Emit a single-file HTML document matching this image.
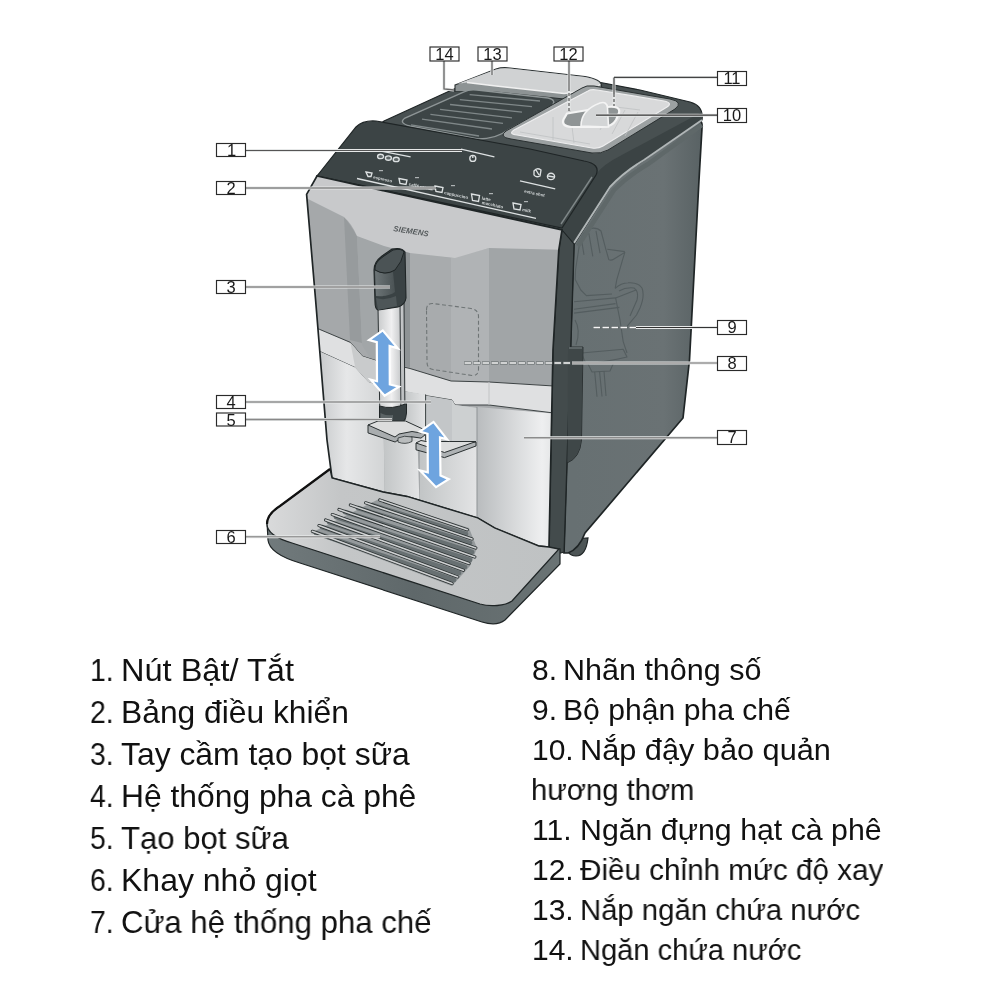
<!DOCTYPE html>
<html><head><meta charset="utf-8">
<style>
html,body{margin:0;padding:0;background:#fff;}
body{width:1000px;height:1000px;position:relative;overflow:hidden;}
svg{position:absolute;left:0;top:0;will-change:transform;}
.t{position:absolute;will-change:transform;font-family:"Liberation Sans",sans-serif;font-size:30px;color:#111;white-space:nowrap;line-height:1;transform-origin:0 0;}
</style></head><body>
<svg width="1000" height="1000" viewBox="0 0 1000 1000">
<defs>
<linearGradient id="sideG" x1="574" x2="702" y1="0" y2="0" gradientUnits="userSpaceOnUse">
<stop offset="0" stop-color="#677072"/><stop offset="0.7" stop-color="#6a7274"/><stop offset="1" stop-color="#596264"/>
</linearGradient>
<linearGradient id="stL" x1="0" x2="1" y1="0" y2="0">
<stop offset="0" stop-color="#b3b6b8"/><stop offset="0.55" stop-color="#e6e7e8"/><stop offset="1" stop-color="#d2d4d5"/>
</linearGradient>
<linearGradient id="stR" x1="0" x2="1" y1="0" y2="0">
<stop offset="0" stop-color="#b9bcbe"/><stop offset="0.7" stop-color="#eeeff0"/><stop offset="1" stop-color="#d5d7d8"/>
</linearGradient>
<linearGradient id="stM" x1="0" x2="1" y1="0" y2="0">
<stop offset="0" stop-color="#c2c5c6"/><stop offset="1" stop-color="#e3e4e5"/>
</linearGradient>
<linearGradient id="trayTop" x1="0" x2="1" y1="0" y2="0">
<stop offset="0" stop-color="#d9dadb"/><stop offset="0.25" stop-color="#c4c6c7"/><stop offset="1" stop-color="#bfc2c3"/>
</linearGradient>
<linearGradient id="trayFront" x1="0" x2="1" y1="0" y2="0">
<stop offset="0" stop-color="#717a7c"/><stop offset="0.5" stop-color="#5f686a"/><stop offset="1" stop-color="#6a7374"/>
</linearGradient>
<linearGradient id="handleL" x1="0" x2="1" y1="0" y2="0">
<stop offset="0" stop-color="#6d7577"/><stop offset="1" stop-color="#4a5254"/>
</linearGradient>
<linearGradient id="tube" x1="0" x2="1" y1="0" y2="0">
<stop offset="0" stop-color="#c9cbcc"/><stop offset="0.5" stop-color="#f0f0f1"/><stop offset="1" stop-color="#b5b8ba"/>
</linearGradient>
</defs>

<!-- ===== SIDE PANEL ===== -->
<path d="M564,540 Q566,556 576,556 Q586,556 588,538 Z" fill="#4d5556" stroke="#1f2526" stroke-width="1.2"/>
<path d="M574,244 L610,187 Q624,172 644,160 L694,122 Q703,117 702,128 L699,180 L689.5,360 L683,418 L585,533 Q579,549 568,553 L564,553 Z" fill="url(#sideG)" stroke="#1f2526" stroke-width="1.7"/>
<!-- ghost brewing unit lines -->
<g fill="none" stroke="#545d5f" stroke-width="1.1" stroke-linejoin="round">
<path d="M580,241 Q584,230 590,228.5 Q597,227 601,231 L605.6,248.4 L608.8,259.6 Q611,261 614,259 L624.8,252.4 L622.4,260.4 L616.8,279.6 L615.2,288.4"/>
<path d="M607.2,249.2 L624.8,251.6"/>
<path d="M581.6,240.4 L584,254.8 M588.8,233.2 L592.8,256.4 M596,230.8 L600,253.2"/>
<path d="M580,241 L575.5,270 L575.2,279.6 L580.8,290 L586.4,295.6 L612,294"/>
<path d="M615.2,288.4 Q621,283 628,282.8 Q638,282 642,288 Q645,296 640,308 L636.5,315 L627,326.4"/>
<path d="M619,291 Q626,287 634,288 Q639,291 637,300 L630,316"/>
<path d="M574,301.7 L615.6,297.9 L636,290"/>
<path d="M574,309.3 L615.6,303.6"/>
<path d="M574,313.1 L619.4,307.4"/>
<path d="M615.6,297.9 L620,320 L623.2,341.6 L627,353"/>
<path d="M575,320 Q581,330 576,345"/>
<path d="M581.4,353 L623.2,349.2 L627,357 Q610,361 586,364 Z"/>
<path d="M588,364 L592,372 L610,371 L614,362"/>
<path d="M594.7,372 L597,396.7 M599.5,371 L602,396.5 M604,371 L606,396"/>
</g>
<!-- handle recess on door strip -->
<path d="M567,347 L583,347 L581.5,440 Q580,458 567,463 Z" fill="#454d4e" stroke="#2c3233" stroke-width="1"/>

<!-- ===== TOP SURFACE ===== -->
<path d="M384,121 L456,88 L598,82 L640,90 L690,102 Q704,106 702,120 L644,160 Q624,172 610,187 L574,244 L562,230 L317,176 Z" fill="#485051" stroke="#1f2526" stroke-width="1.2"/>
<!-- chamfer strip -->
<path d="M562,229 L596,174 Q604,164 620,156 L702,112 L702,120 L644,160 Q624,172 610,187 L574,244 Z" fill="#3b4344"/>
<path d="M578,246 L614,190 Q628,176 648,164 L702,125" fill="none" stroke="#5f6869" stroke-width="4.5"/>
<path d="M574,243 L610,187 Q624,172 644,160 L702,120" fill="none" stroke="#b0b6b7" stroke-width="2"/>

<!-- ===== LID 13 (water tank lid) ===== -->
<path d="M455,85 L496,69 Q502,67 510,68 L585,76.5 Q601,79.5 601.5,85 L601.5,87 Q598,94 588,96.5 L564,99 L496,92 L455,91.5 Z" fill="#8d9394" stroke="#2a3031" stroke-width="1.1"/>
<path d="M457,84 L496,69.5 Q502,67.5 510,68.5 L585,77 Q599,80 600,84 Q598,88.5 589,90.5 L564,93.5 L496,86 L467,82.5 Z" fill="#d0d2d3"/>
<path d="M467,82.5 L496,86 L564,93.5 L589,90.5 Q598,88.5 600,84" fill="none" stroke="#f0f0f0" stroke-width="1.3"/>
<!-- ===== GRILLE 14 ===== -->
<path d="M464,92 Q469,89 477,90 L548,98 Q557,100 552,106 L508,130 Q496,139 478,139 L410,126 Q398,123 405,118 Z" fill="#3d4546" stroke="#8e9596" stroke-width="1.4"/>
<g stroke="#7f8788" stroke-width="1.3">
<line x1="411" y1="124.8" x2="479" y2="136"/>
<line x1="422" y1="119.2" x2="492" y2="129"/>
<line x1="430.4" y1="114.3" x2="503" y2="123.4"/>
<line x1="440" y1="109.4" x2="512" y2="117.8"/>
<line x1="450" y1="104.5" x2="522" y2="112.2"/>
<line x1="459.8" y1="99.6" x2="532" y2="106.6"/>
<line x1="469.6" y1="94.7" x2="540" y2="101"/>
</g>
<!-- ===== BEAN CONTAINER ===== -->
<path d="M582,88 Q586,85 594,86 L670,99 Q684,102 675,109 L608,150 Q601,154 592,153 L511,139 Q498,137 506,131 Z" fill="#9ca1a2" stroke="#2a3031" stroke-width="1"/>
<path d="M588,91 Q591,89 597,90 L664,101 Q673,103 667,107 L603,146 Q598,149 592,148 L517,135 Q508,134 514,130 Z" fill="#d8d9da" stroke="#eeeeef" stroke-width="1.2"/>
<g stroke="#bfc2c3" stroke-width="0.8" fill="none">
<path d="M553,117 L553,140 M570,110 L574,143 M520,132 L590,144 M600,105 L640,110 M612,108 L600,130 M625,110 L612,134 M638,112 L625,136"/>
</g>
<!-- grinder knob -->
<path d="M567,113.5 L606,107 Q621,105 619,113 L616,120 Q612,127 602,127 L571,127 Q561,126 563.5,119.5 Z" fill="#8f9495" stroke="#f4f4f4" stroke-width="2.2"/>
<path d="M581,126 Q581,110 600,103 Q607,101 607.5,108 L608.5,127 Z" fill="#d3d5d6" stroke="#f4f4f4" stroke-width="1.6"/>

<!-- ===== CONTROL PANEL ===== -->
<path d="M356,127 Q363,120 376,121 L530,149 L584,161 Q601,164 596,175 L562,228 L317,176 Z" fill="#3c4445" stroke="#1f2526" stroke-width="1.2"/>
<g fill="none" stroke="#dde1e2" stroke-width="1.35">
<path d="M357,178.5 L470,203.6 L536,218.4"/>
<path d="M382.4,151.4 L410.6,156.8"/>
<path d="M461,149.2 L494.4,156.8"/>
<path d="M520,180.8 L555.2,188.8"/>
<ellipse cx="380.6" cy="156.4" rx="3.0" ry="2.2" fill="#5d6566"/>
<ellipse cx="388.4" cy="158" rx="3.0" ry="2.2" fill="#5d6566"/>
<ellipse cx="396.2" cy="159.4" rx="3.0" ry="2.2" fill="#5d6566"/>
<circle cx="472.8" cy="158.4" r="3"/>
<path d="M472.8,155.4 L472.8,158"/>
<path d="M366,172 L372,173 L371,176.5 L368,176.5 Z"/>
<path d="M399,178.5 L407,180 L406,184.5 L400,183.5 Z"/>
<path d="M435,186 L443,187.5 L442,192.5 L436,191.5 Z"/>
<path d="M471.5,194 L479.5,195.5 L478.5,201.5 L472.5,200.5 Z"/>
<path d="M513,203 L521,204.5 L520,210 L514,209 Z"/>
<path d="M534,171 Q537,167 541,170 L540,176 Q536,178 534,175 Z M536,170 L539,175"/>
<ellipse cx="551" cy="176.4" rx="3.6" ry="3.2"/>
<path d="M548,176 L554,177"/>
</g>
<g font-family="Liberation Sans, sans-serif" font-size="4.4" font-weight="bold" fill="#d3d7d8">
<text x="373" y="178.5" transform="rotate(12 373 178.5)">espresso</text>
<text x="408.5" y="185.5" transform="rotate(12 408.5 185.5)">caffè crema</text>
<text x="444" y="194" transform="rotate(12 444 194)">cappuccino</text>
<text x="481.6" y="199.5" transform="rotate(12 481.6 199.5)">latte</text>
<text x="481.6" y="204" transform="rotate(12 481.6 204)">macchiato</text>
<text x="522" y="211" transform="rotate(12 522 211)">milk</text>
<text x="524" y="192.5" transform="rotate(12 524 192.5)">extra shot</text>
</g>
<g fill="#aeb3b4">
<rect x="379" y="170" width="4" height="1.2"/>
<rect x="415" y="177" width="4" height="1.2"/>
<rect x="451" y="185" width="4" height="1.2"/>
<rect x="489" y="193" width="4" height="1.2"/>
<rect x="524" y="201" width="4" height="1.2"/>
</g>

<path d="M561,224 L592,177" fill="none" stroke="#7f8788" stroke-width="1.4"/>
<!-- ===== DOOR STRIP ===== -->
<path d="M562,230 L574,244 L564,552 L549,556 L549,548 L553,350 L558.8,250 Z" fill="#434b4c" stroke="#1f2526" stroke-width="1.1"/>
<path d="M568,347 L582.5,347 L581,440 Q579.5,457 567.5,462 Z" fill="#3f4748"/>
<path d="M569,348 L582,348" stroke="#7b8384" stroke-width="1"/>


<!-- ===== SILVER BODY ===== -->
<clipPath id="bodyClip"><path d="M317,176 L562,230 L558.8,250 L553,350 L549,547 L538.8,546 L494.6,528 L477.7,518 L407,496.5 L383,492 L332,478 L327,440 L315.6,300 L306.6,194.4 Z"/></clipPath>
<g clip-path="url(#bodyClip)">
<rect x="300" y="170" width="270" height="390" fill="#a6a9ab"/>
<!-- left facet -->
<path d="M300,195 L344,217 Q350,224 357,236 L350,340 L300,325 Z" fill="#a5a8aa"/>
<path d="M344,217 Q350,224 357,236 L362,343 L350,340 Z" fill="#979b9d"/>
<!-- recess behind wand -->
<path d="M357,236 L384,245 L410,252 L412,368 L372,361 L362,345 Z" fill="#a2a6a8"/>
<path d="M403,250 L412,252 L412,368 L404,366 Z" fill="#8e9395"/>
<!-- center-right facet -->
<path d="M410,252 L455,258 L489,248 L570,250 L570,386 L489,382 L451,381 L410,368 Z" fill="#a1a5a7"/>
<path d="M410,252 L451,258 L451,381 L410,368 Z" fill="#a8abad"/>
<path d="M451,258 L489,248 L489,382 L451,381 Z" fill="#b0b3b5"/>
<!-- hood -->
<path d="M300,170 L570,170 L570,250 L489,248 L455,258 L410,253 L384,246 L357,236 Q352,224 344,217 L300,195 Z" fill="#c8c9cb"/>
<!-- mid band -->
<path d="M300,325 L319.2,329.2 L350.4,342.4 L362.4,356.2 L375.6,360.4 L410,368.5 L451,381 L489,382 L570,387 L570,415 L489,405 L455,405 L452,400 L410,393 L378,385 L368.4,382 L355.2,367.6 L321,352 L300,346 Z" fill="#dfe0e1"/>
<path d="M300,325 L319.2,329.2 L350.4,342.4 L362.4,356.2 L375.6,360.4 L410,368.5 L451,381 L489,382 L570,387" fill="none" stroke="#3d4344" stroke-width="1"/>
<path d="M300,346 L321,352 L355.2,367.6 L368.4,382 L378,385 L410,393 L452,400 L455,405 L489,405 L570,415" fill="none" stroke="#3d4344" stroke-width="1"/>
<path d="M489,382 L489,405" stroke="#c2c4c5" stroke-width="1"/>
<path d="M350.4,342.4 L362.4,356.2 L375.6,360.4 L378,385 L368.4,382 L355.2,367.6 Z" fill="#c9cbcc"/>
<!-- lower stainless left -->
<path d="M300,346 L321,352 L355.2,367.6 L368.4,382 L383,387 L385,520 L300,500 Z" fill="url(#stL)"/>
<!-- lower center column -->
<path d="M383,385 L410,393 L416,395 L420,520 L385,520 Z" fill="url(#stM)"/>
<!-- spout housing -->
<path d="M410,393 L452,400 L455,405 L477,408 L477,446 L410,440 Z" fill="#c3c6c8"/>
<path d="M404,391 L425.6,394.4 L425.6,442 L404,440 Z" fill="url(#stM)"/>
<path d="M452,400 L455,405 L477,408 L477,446 L452,444 Z" fill="#cdd0d1"/>
<path d="M425.6,394.4 L425.6,442" stroke="#3a4041" stroke-width="1"/>
<!-- lower right column -->
<path d="M477,407 L570,415 L570,560 L477,560 Z" fill="url(#stR)"/>
<path d="M420,440 L477,445 L477,560 L420,540 Z" fill="url(#stM)"/>
<path d="M477,407 L477,530" stroke="#8e9395" stroke-width="1"/>
<!-- SIEMENS logo -->
<text x="393" y="231" font-family="Liberation Sans, sans-serif" font-weight="bold" font-style="italic" font-size="7.8" fill="#54595b" transform="rotate(9 393 231)" letter-spacing="0.1">SIEMENS</text>
<!-- dashed label rectangle -->
<path d="M426.5,310 Q426.5,303 433,303.5 L471,308.5 Q478,309.5 478.5,316 L478.5,369 Q478.5,376 472,375.5 L433,369.5 Q427,368.5 427,362 Z" fill="none" stroke="#6f7576" stroke-width="1.1" stroke-dasharray="4,2.5"/>
</g>
<path d="M317,176 L562,230 L558.8,250 L553,350 L549,547 L538.8,546 L494.6,528 L477.7,518 L407,496.5 L383,492 L332,478 L327,440 L315.6,300 L306.6,194.4 Z" fill="none" stroke="#1f2526" stroke-width="1.7"/>
<!-- coffee outlet slab -->
<path d="M416,443 L416,449.8 L444.5,457.6 L476,446 L476,442 Z" fill="#aeb2b4" stroke="#2a3031" stroke-width="1"/>
<path d="M416,443 L421,440.5 L426,441.5 L476,441.5 L444.5,452.5 Z" fill="#dcdddd" stroke="#2a3031" stroke-width="1"/>

<!-- ===== STEAM WAND ===== -->
<path d="M378,308 L404,302 L405,420 L380,424 Z" fill="url(#tube)"/>
<path d="M378,308 L380,424 M400,303 L401,420 M404,302 L405,420" stroke="#2d3335" stroke-width="1" fill="none"/>
<!-- frother tip -->
<path d="M379.5,406 Q392,410 406.5,403.5 L406.5,413 Q406,423 397,425.5 L384,425.5 Q379.5,425 379.5,420 Z" fill="#3b4345" stroke="#1f2526" stroke-width="1"/>
<path d="M380.5,413 Q386,416 393,415 L393,424.8 L384,424.8 Q380.5,424 380.5,420 Z" fill="#5c6466"/>
<!-- handle -->
<path d="M374,270 Q374,262 382,256 L392,249 Q402,247 405,252 L406,298 Q405,305 398,307 L378,310 Q375,309 375,302 Z" fill="#3a4244" stroke="#1f2526" stroke-width="1.1"/>
<path d="M375,270 Q383,276 393,272 L395,292 Q388,297 376,296 Z" fill="url(#handleL)"/>
<path d="M376,298 Q385,301 396,296 L397,306 L378,310 Z" fill="#4e5658"/>
<path d="M375,268 Q375,262 384,256 L393,250 Q402,248 404,252 Q402,262 395,270 Q385,276 375,270 Z" fill="#4b5355" stroke="#1f2526" stroke-width="1"/>
<!-- frother platform -->
<path d="M368,425 L368,432.9 L395.1,442 L399,439.4 L412,436.8 L421,438.1 L425,434.9 L425,430 Z" fill="#a9adaf" stroke="#2a3031" stroke-width="1"/>
<path d="M368,425 L378,421 L405.5,421 L425,430 L421,433 L412,431.5 L399,434 L395,437 Z" fill="#dcdddd" stroke="#2a3031" stroke-width="1"/>
<path d="M398,438 Q404,435 412,437 L412,441.5 Q405,445 398,442 Z" fill="#b9bcbd" stroke="#2a3031" stroke-width="0.8"/>

<!-- ===== ARROWS ===== -->
<path d="M382.8,330.4 L397.8,348.4 L389.6,345.9 L389.8,384.5 L399,386.8 L384.6,395.8 L370.8,379.6 L377,381.2 L376.8,342.2 L369,340 Z" fill="#6ea4df" stroke="#fff" stroke-width="2.2" stroke-linejoin="miter"/>
<path d="M433.5,421.9 L447.1,439.4 L440,437.5 L440.5,475.5 L448.8,479.2 L436,487.2 L420,470.4 L427.8,472.3 L427.6,433.8 L419.8,431.6 Z" fill="#6ea4df" stroke="#fff" stroke-width="2.2" stroke-linejoin="miter"/>
<!-- ===== DRIP TRAY ===== -->
<path d="M267,522 L268,540 C269,550 280,557 300,563 L482,622 C492,625 500,624 505,620 L560,564 L560,549 Z" fill="url(#trayFront)" stroke="#1f2526" stroke-width="1.2"/>
<path d="M330,469 L332,478 L383,492 L407,496.5 L477.7,518 L494.6,528 L538.8,546 L549,547 L559,549 L512,601 C505,606 490,607 480,604 L292,543 C275,538 267,532 267,524 C267,517 272,511 280,506 Z" fill="url(#trayTop)" stroke="#1f2526" stroke-width="1.3"/>
<path d="M330,469 L280,506 C272,511 267,517 267,524" fill="none" stroke="#111" stroke-width="2.2"/>
<!-- grate -->
<path d="M379,499 L469,528 L477,548 L470,566 L452,586 L311,533 Z" fill="#959a9c"/>
<g stroke="#687072" stroke-width="4.6" stroke-linecap="round">
<line x1="372" y1="505" x2="466" y2="534"/>
<line x1="358" y1="508" x2="470" y2="543"/>
<line x1="345" y1="512" x2="472" y2="552"/>
<line x1="336" y1="517" x2="470" y2="560"/>
<line x1="329" y1="522" x2="465" y2="567"/>
<line x1="322" y1="527" x2="459" y2="573"/>
<line x1="316" y1="533" x2="454" y2="580"/>
</g>
<g stroke="#2a3031" stroke-width="3.2" stroke-linecap="round">
<line x1="379.8" y1="500" x2="467.2" y2="529.8"/>
<line x1="365.6" y1="502.8" x2="472" y2="538.9"/>
<line x1="350.4" y1="505" x2="475.8" y2="548"/>
<line x1="339" y1="509.5" x2="474.8" y2="557"/>
<line x1="332.3" y1="514.6" x2="469" y2="563.6"/>
<line x1="325.6" y1="520" x2="463.4" y2="570.3"/>
<line x1="319" y1="525.6" x2="457.7" y2="576.9"/>
<line x1="312.4" y1="531.3" x2="452" y2="583.6"/>
</g>
<g stroke="#cfd1d2" stroke-width="1.6" stroke-linecap="round">
<line x1="379.8" y1="500" x2="467.2" y2="529.8"/>
<line x1="365.6" y1="502.8" x2="472" y2="538.9"/>
<line x1="350.4" y1="505" x2="475.8" y2="548"/>
<line x1="339" y1="509.5" x2="474.8" y2="557"/>
<line x1="332.3" y1="514.6" x2="469" y2="563.6"/>
<line x1="325.6" y1="520" x2="463.4" y2="570.3"/>
<line x1="319" y1="525.6" x2="457.7" y2="576.9"/>
<line x1="312.4" y1="531.3" x2="452" y2="583.6"/>
</g>

<!-- ===== LEADER LINES ===== -->
<g fill="none" stroke="#e6e8e8" stroke-width="3">
<path d="M246,150.5 L462,150.5"/>
<path d="M246,188 L436,188"/>
<path d="M246,287 L390,287"/>
<path d="M246,402 L431,402"/>
<path d="M246,419.5 L392,419.5"/>
<path d="M246,536.7 L380,536.7"/>
<path d="M636,327.5 L717,327.5"/>
<path d="M572,363 L717,363"/>
<path d="M524,437.8 L717,437.8"/>
<path d="M596,115.2 L717,115.2"/>
<path d="M614,77.4 L717,77.4 M614,77.4 L614,106"/>
<path d="M444,61 L444,89 L454,90"/>
<path d="M492,61 L492,75"/>
<path d="M569,61 L569,110"/>
</g>
<g fill="none">
<path d="M246,150.5 L462,150.5" stroke="#555" stroke-width="1.2"/>
<path d="M246,188 L436,188" stroke="#555" stroke-width="1.2"/>
<path d="M246,287 L390,287" stroke="#8a8a8a" stroke-width="1.4"/>
<path d="M246,402 L431,402" stroke="#666" stroke-width="1.2"/>
<path d="M246,419.5 L392,419.5" stroke="#888" stroke-width="1.4"/>
<path d="M246,536.7 L380,536.7" stroke="#999" stroke-width="1.5"/>
<path d="M636,327.5 L717,327.5" stroke="#333" stroke-width="1.2"/>
<path d="M572,363 L717,363" stroke="#999" stroke-width="1.5"/>
<path d="M524,437.8 L717,437.8" stroke="#8c8c8c" stroke-width="1.6"/>
<path d="M596,115.2 L717,115.2" stroke="#333" stroke-width="1.2"/>
<path d="M614,77.4 L717,77.4 M614,77.4 L614,94" stroke="#444" stroke-width="1.2"/>
<path d="M614,94 L614,106" stroke="#555" stroke-width="1.2" stroke-dasharray="3,2"/>
<path d="M444,61 L444,89 L454,90" stroke="#666" stroke-width="1.3"/>
<path d="M492,61 L492,75" stroke="#666" stroke-width="1.3"/>
<path d="M569,61 L569,88" stroke="#666" stroke-width="1.3"/>
<path d="M569,88 L569,111" stroke="#666" stroke-width="1.3" stroke-dasharray="3,2"/>
</g>
<g fill="none" stroke="#5f6667" stroke-width="3" stroke-dasharray="7.5,1.5" stroke-linecap="butt">
<path d="M593,327.5 L636,327.5"/>
<path d="M464,363 L572,363"/>
</g>
<g fill="none" stroke="#f6f6f6" stroke-width="1.4" stroke-dasharray="6.5,2.5" stroke-dashoffset="-0.5">
<path d="M593,327.5 L636,327.5"/>
<path d="M464,363 L572,363"/>
</g>
<!-- ===== LABEL BOXES ===== -->
<g fill="#fff" stroke="#2a2a2a" stroke-width="1.15">
<rect x="216.5" y="143.5" width="29" height="13"/>
<rect x="216.5" y="181.5" width="29" height="13"/>
<rect x="216.5" y="280.5" width="29" height="13"/>
<rect x="216.5" y="395.5" width="29" height="13"/>
<rect x="216.5" y="413" width="29" height="13"/>
<rect x="216.5" y="530.5" width="29" height="13"/>
<rect x="717.5" y="320.5" width="29" height="14"/>
<rect x="717.5" y="356.5" width="29" height="14"/>
<rect x="717.5" y="430.5" width="29" height="14"/>
<rect x="717.5" y="108.5" width="29" height="14"/>
<rect x="717.5" y="71.5" width="29" height="14"/>
<rect x="430" y="47" width="29" height="14"/>
<rect x="478" y="47" width="29" height="14"/>
<rect x="554" y="47" width="29" height="14"/>
</g>
<g font-family="Liberation Sans, sans-serif" font-size="16.5" fill="#1a1a1a" text-anchor="middle">
<text x="231.5" y="156.2">1</text>
<text x="231" y="194.2">2</text>
<text x="231" y="293.2">3</text>
<text x="231" y="408.2">4</text>
<text x="231" y="425.7">5</text>
<text x="231" y="543.2">6</text>
<text x="732" y="333.4">9</text>
<text x="732" y="369.4">8</text>
<text x="732" y="443.4">7</text>
<text x="732" y="121.2">10</text>
<text x="732" y="84.4">11</text>
<text x="444.5" y="60.2">14</text>
<text x="492.5" y="60.2">13</text>
<text x="568.5" y="60.2">12</text>
</g>
</svg>

<div class="t" style="font-size:31.5px;left:90px;top:654.5px;transform:scaleX(0.9)">1.</div>
<div class="t" style="font-size:31.5px;left:120.7px;top:654.5px;transform:scaleX(1.0325)">Nút Bật/ Tắt</div>
<div class="t" style="font-size:31.5px;left:90px;top:696.5px;transform:scaleX(0.9)">2.</div>
<div class="t" style="font-size:31.5px;left:120.7px;top:696.5px;transform:scaleX(1.0090)">Bảng điều khiển</div>
<div class="t" style="font-size:31.5px;left:90px;top:738.5px;transform:scaleX(0.9)">3.</div>
<div class="t" style="font-size:31.5px;left:120.7px;top:738.5px;transform:scaleX(1.0112)">Tay cầm tạo bọt sữa</div>
<div class="t" style="font-size:31.5px;left:90px;top:780.5px;transform:scaleX(0.9)">4.</div>
<div class="t" style="font-size:31.5px;left:120.7px;top:780.5px;transform:scaleX(1.0096)">Hệ thống pha cà phê</div>
<div class="t" style="font-size:31.5px;left:90px;top:822.5px;transform:scaleX(0.9)">5.</div>
<div class="t" style="font-size:31.5px;left:120.7px;top:822.5px;transform:scaleX(0.9870)">Tạo bọt sữa</div>
<div class="t" style="font-size:31.5px;left:90px;top:864.5px;transform:scaleX(0.9)">6.</div>
<div class="t" style="font-size:31.5px;left:120.7px;top:864.5px;transform:scaleX(1.0156)">Khay nhỏ giọt</div>
<div class="t" style="font-size:31.5px;left:90px;top:906.5px;transform:scaleX(0.9)">7.</div>
<div class="t" style="font-size:31.5px;left:120.7px;top:906.5px;transform:scaleX(0.9904)">Cửa hệ thống pha chế</div>
<div class="t" style="font-size:30px;left:532px;top:654.8px">8.</div>
<div class="t" style="font-size:30px;left:562.8px;top:654.8px;transform:scaleX(1.0166)">Nhãn thông số</div>
<div class="t" style="font-size:30px;left:532px;top:694.8px">9.</div>
<div class="t" style="font-size:30px;left:562.8px;top:694.8px;transform:scaleX(1.0044)">Bộ phận pha chế</div>
<div class="t" style="font-size:30px;left:532px;top:734.8px">10.</div>
<div class="t" style="font-size:30px;left:580.4px;top:734.8px;transform:scaleX(1.0232)">Nắp đậy bảo quản</div>
<div class="t" style="font-size:30px;left:530.8px;top:774.8px;transform:scaleX(0.9734)">hương thơm</div>
<div class="t" style="font-size:30px;left:532px;top:814.8px">11.</div>
<div class="t" style="font-size:30px;left:580.4px;top:814.8px;transform:scaleX(1.0102)">Ngăn đựng hạt cà phê</div>
<div class="t" style="font-size:30px;left:532px;top:854.8px">12.</div>
<div class="t" style="font-size:30px;left:580.4px;top:854.8px;transform:scaleX(0.9882)">Điều chỉnh mức độ xay</div>
<div class="t" style="font-size:30px;left:532px;top:894.8px">13.</div>
<div class="t" style="font-size:30px;left:580.4px;top:894.8px;transform:scaleX(0.9768)">Nắp ngăn chứa nước</div>
<div class="t" style="font-size:30px;left:532px;top:934.8px">14.</div>
<div class="t" style="font-size:30px;left:580.4px;top:934.8px;transform:scaleX(0.9699)">Ngăn chứa nước</div>
</body></html>
